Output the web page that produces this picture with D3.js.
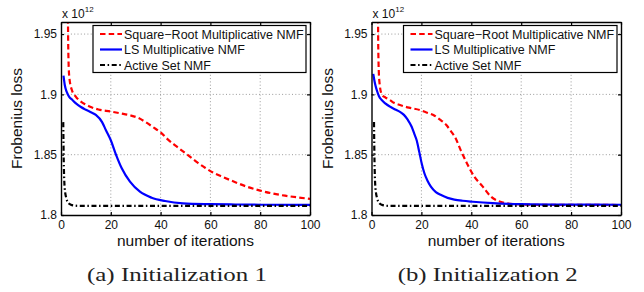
<!DOCTYPE html>
<html>
<head>
<meta charset="utf-8">
<script src="https://cdn.jsdelivr.net/npm/d3@7"></script>
<style>
  body { margin: 0; background: #fff; }
  svg { display: block; font-family: "Liberation Sans", Arial, sans-serif; }
</style>
</head>
<body>
<div id="chart"></div>
<script>
// tick values / labels
const xTicks = [0, 20, 40, 60, 80, 100];
const yTicks = [1.8, 1.85, 1.9, 1.95];
const yTickLabels = ["1.8", "1.85", "1.9", "1.95"];
const seriesNames = ["Square\u2212Root Multiplicative NMF", "LS Multiplicative NMF", "Active Set NMF"];
const captions = ["(a) Initialization 1", "(b) Initialization 2"];

// (a) Initialization 1  -- loss in units of 1e12
const sqrtIter1 = [2.6, 2.9, 3.3, 4.3, 6, 8, 10, 12, 15, 20, 25, 28, 31, 34, 37, 40, 43, 46, 49, 52, 55, 58, 61, 65, 70, 75, 80, 85, 90, 95, 100];
const sqrtLoss1 = [2.05, 1.94, 1.915, 1.904, 1.898, 1.894, 1.8915, 1.8895, 1.8875, 1.8858, 1.8838, 1.8825, 1.8805, 1.877, 1.8728, 1.8685, 1.8625, 1.8575, 1.8528, 1.848, 1.8432, 1.839, 1.8352, 1.8315, 1.8272, 1.8232, 1.8202, 1.8178, 1.816, 1.8146, 1.8134];
const lsIter1 = [1, 1.5, 2.3, 3.3, 4.5, 6, 8, 10, 12, 14, 16.5, 18, 20, 22, 24.4, 27.7, 31.7, 36.4, 41.8, 49, 60, 70, 80, 100];
const lsLoss1 = [1.9155, 1.908, 1.902, 1.898, 1.8955, 1.8925, 1.8895, 1.8872, 1.8852, 1.883, 1.877, 1.8705, 1.862, 1.8505, 1.8387, 1.8276, 1.8193, 1.8143, 1.8116, 1.8097, 1.809, 1.8087, 1.8085, 1.8084];
const asIter1 = [0.9, 1.1, 1.5, 2.2, 3, 4, 5.5, 7, 100];
const asLoss1 = [1.877, 1.845, 1.822, 1.8135, 1.8098, 1.8085, 1.8078, 1.8076, 1.8076];

// (b) Initialization 2
const sqrtIter2 = [2.5, 2.7, 3.1, 4.1, 5.5, 7.4, 9, 11.4, 15, 19.4, 22, 24.8, 27.5, 30, 31.8, 33.5, 35.7, 38.6, 41.2, 44.6, 47.9, 50.8, 54.2, 58.2, 65, 80, 100];
const sqrtLoss2 = [2.05, 1.94, 1.912, 1.9, 1.8975, 1.8953, 1.893, 1.8912, 1.889, 1.887, 1.885, 1.8829, 1.879, 1.8746, 1.8695, 1.8645, 1.854, 1.8414, 1.8318, 1.8235, 1.8152, 1.8116, 1.8097, 1.8089, 1.8085, 1.8084, 1.8083];
const lsIter2 = [0.7, 1.4, 2.1, 3, 4.1, 5.5, 7.4, 9.5, 11.4, 13, 14.5, 16.1, 17.2, 18.1, 19.2, 20.2, 21.2, 22.5, 23.8, 25.8, 27.9, 30.5, 33.2, 36.5, 40.6, 48.6, 60, 80, 100];
const lsLoss2 = [1.917, 1.909, 1.9036, 1.8985, 1.8953, 1.8925, 1.8898, 1.8875, 1.8855, 1.883, 1.879, 1.8732, 1.867, 1.862, 1.8517, 1.842, 1.8346, 1.8282, 1.8235, 1.819, 1.8165, 1.8142, 1.8128, 1.8118, 1.811, 1.8098, 1.809, 1.8086, 1.8085];
const asIter2 = [1, 1.2, 1.6, 2.3, 3.1, 4.1, 5.5, 7, 100];
const asLoss2 = [1.877, 1.845, 1.822, 1.8135, 1.8098, 1.8085, 1.8078, 1.8076, 1.8076];

const styles = [
    {color: "#ff0000", dash: "5.5,3.2"},
    {color: "#0000ff", dash: null},
    {color: "#000000", dash: "5,2.6,1.5,2.6"}
];

const width = 644, height = 292;
const plotTop = 22, plotBottom = 215;

const panels = [
    {left: 61, right: 310, caption: captions[0], series: [[sqrtIter1, sqrtLoss1], [lsIter1, lsLoss1], [asIter1, asLoss1]]},
    {left: 371.5, right: 621, caption: captions[1], series: [[sqrtIter2, sqrtLoss2], [lsIter2, lsLoss2], [asIter2, asLoss2]]}
];

const svg = d3.select("#chart").append("svg")
    .attr("width", width)
    .attr("height", height);

panels.forEach((p, pi) => drawPanel(p, pi));

function drawPanel(p, pi) {
    const x = d3.scaleLinear([0, 100], [p.left, p.right]);
    const y = d3.scaleLinear([1.8, 1.96], [plotBottom, plotTop]);
    const g = svg.append("g");

    g.append("clipPath").attr("id", "clip" + pi)
      .append("rect")
        .attr("x", p.left).attr("y", plotTop)
        .attr("width", p.right - p.left).attr("height", plotBottom - plotTop);

    // dotted grid
    g.append("g")
        .selectAll("line")
        .data(xTicks.slice(1, -1))
        .join("line")
          .attr("x1", d => x(d)).attr("x2", d => x(d))
          .attr("y1", plotTop).attr("y2", plotBottom)
          .attr("stroke", "#9a9a9a").attr("stroke-dasharray", "1,2.3");
    g.append("g")
        .selectAll("line")
        .data(yTicks.slice(1))
        .join("line")
          .attr("x1", p.left).attr("x2", p.right)
          .attr("y1", d => y(d)).attr("y2", d => y(d))
          .attr("stroke", "#9a9a9a").attr("stroke-dasharray", "1,2.3");

    // curves
    const line = d3.line()
        .x(d => x(d[0]))
        .y(d => y(d[1]))
        .curve(d3.curveMonotoneX);

    g.append("g")
        .attr("clip-path", `url(#clip${pi})`)
        .selectAll("path")
        .data(p.series)
        .join("path")
          .attr("d", ([it, loss]) => line(d3.zip(it, loss)))
          .attr("fill", "none")
          .attr("stroke", (d, i) => styles[i].color)
          .attr("stroke-width", 2.2)
          .attr("stroke-dasharray", (d, i) => styles[i].dash);

    // axes, ticks pointing inwards like matlab
    const fmt = d => yTickLabels[yTicks.indexOf(d)];
    g.append("g")
        .attr("transform", `translate(${p.left},0)`)
        .call(d3.axisLeft(y).tickValues(yTicks).tickFormat(fmt).tickSize(-3).tickSizeOuter(0).tickPadding(4));
    g.append("g")
        .attr("transform", `translate(${p.right},0)`)
        .call(d3.axisRight(y).tickValues(yTicks).tickFormat("").tickSize(-3).tickSizeOuter(0));
    g.append("g")
        .attr("transform", `translate(0,${plotBottom})`)
        .call(d3.axisBottom(x).tickValues(xTicks).tickSize(-3).tickSizeOuter(0).tickPadding(5.5));
    g.append("g")
        .attr("transform", `translate(0,${plotTop})`)
        .call(d3.axisTop(x).tickValues(xTicks).tickFormat("").tickSize(-3).tickSizeOuter(0));

    g.selectAll(".domain").attr("stroke", "#000").attr("stroke-width", 1.4);
    g.selectAll(".tick line").attr("stroke", "#000").attr("stroke-width", 1.2);
    g.selectAll(".tick text")
        .attr("font-family", "'Liberation Sans', Arial, sans-serif")
        .attr("font-size", 12)
        .attr("fill", "#111");

    // exponent label
    const ex = g.append("text")
        .attr("x", p.left + 1).attr("y", 18)
        .attr("font-size", 12).attr("fill", "#111")
        .text("x 10");
    ex.append("tspan").attr("font-size", 8).attr("dy", -6).text("12");

    // axis labels
    g.append("text")
        .attr("x", (p.left + p.right) / 2).attr("y", 245.5)
        .attr("text-anchor", "middle")
        .attr("font-size", 14.5).attr("fill", "#111")
        .attr("textLength", 137).attr("lengthAdjust", "spacingAndGlyphs")
        .text("number of iterations");
    g.append("text")
        .attr("transform", `translate(${p.left - 39},${(plotTop + plotBottom) / 2}) rotate(-90)`)
        .attr("text-anchor", "middle")
        .attr("font-size", 15.5).attr("fill", "#111")
        .text("Frobenius loss");

    // legend
    const lx = p.left + 32, lw = p.right - 4 - lx;
    const leg = g.append("g");
    leg.append("rect")
        .attr("x", lx).attr("y", 25.5)
        .attr("width", lw).attr("height", 47)
        .attr("fill", "#fff").attr("stroke", "#000").attr("stroke-width", 1.2);
    const rows = [34, 49.5, 65];
    seriesNames.forEach((name, i) => {
        leg.append("line")
            .attr("x1", lx + 7).attr("x2", lx + 29)
            .attr("y1", rows[i]).attr("y2", rows[i])
            .attr("stroke", styles[i].color)
            .attr("stroke-width", 2.2)
            .attr("stroke-dasharray", styles[i].dash);
        leg.append("text")
            .attr("x", lx + 31).attr("y", rows[i] + 4.5)
            .attr("font-size", 12.5).attr("fill", "#111")
            .text(name);
    });

    // caption underneath
    g.append("text")
        .attr("x", (p.left + p.right) / 2 - 8.5).attr("y", 281)
        .attr("text-anchor", "middle")
        .attr("font-family", "'Liberation Serif', 'Times New Roman', serif")
        .attr("font-size", 18).attr("fill", "#222")
        .attr("textLength", 180).attr("lengthAdjust", "spacingAndGlyphs")
        .text(p.caption);
}
</script>
</body>
</html>
